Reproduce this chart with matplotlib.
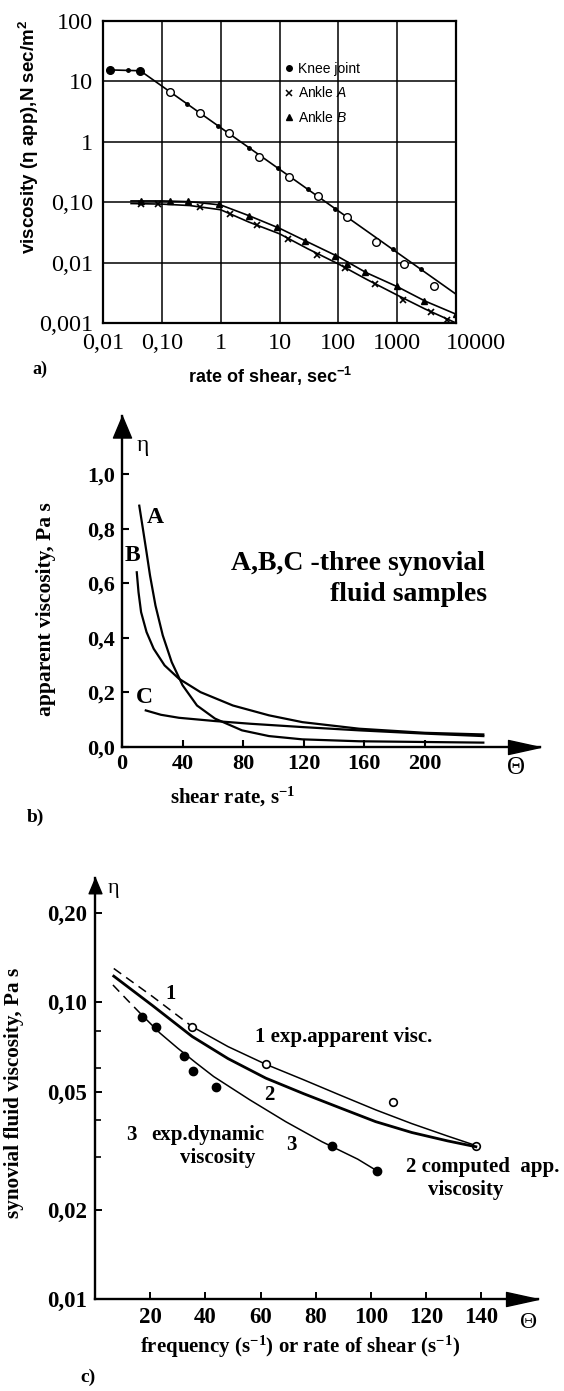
import matplotlib
matplotlib.use('Agg')
import matplotlib.pyplot as plt
from matplotlib.lines import Line2D

plt.rcParams['mathtext.default'] = 'regular'
plt.rcParams['mathtext.fontset'] = 'custom'
plt.rcParams['mathtext.it'] = 'Liberation Sans:italic'

SERIF = 'Liberation Serif'
SANS = 'Liberation Sans'

# ---------------- data: panel a ----------------
a_xticks = [0.01, 0.1, 1, 10, 100, 1000]
a_xticklabels = ['0,01', '0,10', '1', '10', '100', '1000']
a_last_xtick = 10000
a_last_xticklabel = '10000'
a_yticks = [0.001, 0.01, 0.1, 1, 10, 100]
a_yticklabels = ['0,001', '0,01', '0,10', '1', '10', '100']

knee_line_x = [0.013, 0.043, 10000]
knee_line_y = [15.5, 15.0, 0.003]
knee_plateau_x = [0.013, 0.043]
knee_plateau_y = [15.5, 15.0]
knee_open_x = [0.137, 0.45, 1.38, 4.5, 14.4, 45, 138, 443, 1330, 4270]
knee_open_y = [6.8, 3.0, 1.4, 0.56, 0.26, 0.126, 0.056, 0.022, 0.0095, 0.0041]
knee_dot_x = [0.027, 0.27, 0.9, 3, 9.4, 30, 88, 850, 2500]
knee_dot_y = [15.2, 4.2, 1.85, 0.8, 0.37, 0.165, 0.078, 0.0165, 0.0079]

ankleB_line_x = [0.03, 0.1, 0.3, 1, 3, 10, 30, 100, 300, 1000, 3000, 10000]
ankleB_line_y = [0.105, 0.105, 0.102, 0.09, 0.06, 0.037, 0.022, 0.0125, 0.0068, 0.0040, 0.0023, 0.0014]
ankleB_x = [0.045, 0.14, 0.28, 0.95, 3, 9, 27, 88, 140, 280, 1000, 2900, 10000]
ankleB_y = [0.105, 0.105, 0.105, 0.092, 0.058, 0.039, 0.023, 0.013, 0.0095, 0.0069, 0.0041, 0.0023, 0.0014]

ankleA_line_x = [0.03, 0.1, 0.3, 1, 3, 10, 30, 100, 300, 1000, 3000, 10000]
ankleA_line_y = [0.095, 0.093, 0.088, 0.075, 0.047, 0.03, 0.017, 0.0095, 0.0053, 0.0029, 0.0017, 0.001]
ankleA_x = [0.045, 0.087, 0.44, 1.46, 4.2, 13.8, 43, 130, 415, 1250, 3740, 7000]
ankleA_y = [0.095, 0.092, 0.083, 0.065, 0.042, 0.025, 0.0135, 0.0082, 0.0044, 0.0024, 0.0015, 0.0011]

legend_labels = ['Knee joint', r'Ankle $\it{A}$', r'Ankle $\it{B}$']

# ---------------- data: panel b ----------------
b_xticks = [0, 40, 80, 120, 160, 200]
b_xticklabels = ['0', '40', '80', '120', '160', '200']
b_yticks = [0, 0.2, 0.4, 0.6, 0.8, 1.0]
b_yticklabels = ['0,0', '0,2', '0,4', '0,6', '0,8', '1,0']

A_x = [11.4, 13.8, 16.2, 18.5, 22.1, 26.9, 32.8, 40.0, 49.5, 61.4, 79.2, 97.0, 119.1, 156.5, 238.5]
A_y = [0.884, 0.799, 0.713, 0.628, 0.518, 0.409, 0.311, 0.226, 0.152, 0.104, 0.061, 0.040, 0.028, 0.021, 0.016]
B_x = [9.75, 10.9, 12.6, 16.2, 20.9, 28.1, 37.6, 51.8, 73.2, 97.0, 119.1, 156.5, 200, 238.5]
B_y = [0.640, 0.567, 0.494, 0.421, 0.360, 0.299, 0.250, 0.201, 0.152, 0.116, 0.091, 0.067, 0.052, 0.046]
C_x = [15.7, 25.7, 37.6, 61.4, 85.1, 119.1, 156.5, 200, 238.5]
C_y = [0.134, 0.118, 0.107, 0.095, 0.085, 0.073, 0.061, 0.049, 0.040]

# ---------------- data: panel c ----------------
c_xticks = [20, 40, 60, 80, 100, 120, 140]
c_xticklabels = ['20', '40', '60', '80', '100', '120', '140']
c_yticks = [0.01, 0.02, 0.05, 0.1, 0.2]
c_yticklabels = ['0,01', '0,02', '0,05', '0,10', '0,20']
c_yminor = [0.03, 0.04, 0.06, 0.08]

c1_dash_x = [6.8, 20.9, 35.2]
c1_dash_y = [0.130, 0.1045, 0.0828]
c1_x = [35.2, 48.2, 61.9, 75.6, 88.7, 101.7, 114.8, 127.8, 138.0]
c1_y = [0.0828, 0.0709, 0.0618, 0.0548, 0.0487, 0.0434, 0.039, 0.0354, 0.0329]
c1_pts_x = [35.2, 61.9, 108, 138]
c1_pts_y = [0.0828, 0.0618, 0.0462, 0.0329]

c2_x = [6.8, 20.9, 35.2, 48.2, 61.9, 75.6, 88.7, 101.7, 114.8, 127.8, 138.0]
c2_y = [0.1225, 0.0974, 0.0767, 0.0646, 0.0555, 0.0492, 0.0441, 0.0396, 0.0364, 0.0341, 0.0326]

c3_dash_x = [6.5, 11.7, 17.0]
c3_dash_y = [0.1144, 0.1018, 0.0906]
c3_x = [17.0, 23.5, 30.0, 36.5, 43.0, 56.1, 69.1, 82.2, 95.2, 101.7]
c3_y = [0.0906, 0.0788, 0.070, 0.0626, 0.0562, 0.0469, 0.0396, 0.0339, 0.0296, 0.0272]
c3_pts_x = [17.0, 22.2, 32.2, 35.6, 43.7, 85.8, 102]
c3_pts_y = [0.0894, 0.0824, 0.0661, 0.0587, 0.052, 0.0329, 0.0271]

# ---------------- layout helpers ----------------
W, H = 564, 1391
fig = plt.figure(figsize=(W / 100, H / 100), dpi=100)


def box(l, t, r, b):
    return [l / W, 1 - b / H, (r - l) / W, (b - t) / H]


def fx(x):
    return x / W


def fy(y):
    return 1 - y / H


ARROW_R = [(0, 0), (-1, 0.22), (-1, -0.22), (0, 0)]
ARROW_U = [(0, 0), (-0.42, -1), (0.42, -1), (0, 0)]

# ================= panel a =================
ax1 = fig.add_axes(box(103, 21, 456, 323))
ax1.set_xscale('log')
ax1.set_yscale('log')
ax1.set_xlim(0.01, 10000)
ax1.set_ylim(0.001, 100)
ax1.set_xticks(a_xticks + [a_last_xtick])
ax1.set_xticklabels(a_xticklabels + [''])
ax1.set_yticks(a_yticks)
ax1.set_yticklabels(a_yticklabels)
ax1.minorticks_off()
ax1.tick_params(axis='both', length=0, labelsize=17.5)
ax1.tick_params(axis='x', pad=7)
ax1.tick_params(axis='y', pad=7)
for lab in ax1.get_xticklabels() + ax1.get_yticklabels():
    lab.set_family(SERIF)
ax1.annotate(a_last_xticklabel, xy=(a_last_xtick, 0), xycoords=('data', 'axes fraction'),
             xytext=(20, -10), textcoords='offset pixels', ha='center', va='top',
             fontsize=17.5, family=SERIF)
ax1.grid(True, which='major', color='k', lw=1.1)
ax1.set_axisbelow(True)
for s in ax1.spines.values():
    s.set_linewidth(1.6)

ax1.plot(knee_line_x, knee_line_y, color='k', lw=1.2)
ax1.plot(knee_plateau_x, knee_plateau_y, ls='none', marker='o', ms=5.5, mfc='k', mec='k')
ax1.plot(knee_open_x, knee_open_y, ls='none', marker='o', ms=5.5, mfc='white', mec='k', mew=1.0)
ax1.plot(knee_dot_x, knee_dot_y, ls='none', marker='o', ms=2.5, color='k')

ax1.plot(ankleB_line_x, ankleB_line_y, color='k', lw=1.2)
ax1.plot(ankleB_x, ankleB_y, ls='none', marker='^', ms=5, color='k')
ax1.plot(ankleA_line_x, ankleA_line_y, color='k', lw=1.2)
ax1.plot(ankleA_x, ankleA_y, ls='none', marker='x', ms=5, mew=1.2, color='k')

handles = [Line2D([], [], ls='none', marker='o', color='k', ms=4),
           Line2D([], [], ls='none', marker='x', color='k', ms=5, mew=1.1),
           Line2D([], [], ls='none', marker='^', color='k', ms=5)]
ax1.legend(handles, legend_labels, loc='upper left', bbox_to_anchor=(0.515, 0.865),
           frameon=False, prop={'family': SANS, 'size': 10}, handlelength=0.6,
           handletextpad=0.35, labelspacing=0.7, borderpad=0, borderaxespad=0)

fig.text(fx(29), fy(137), 'viscosity (η app),N sec/m$^{2}$', rotation=90, ha='center',
         va='center', family=SANS, weight='bold', fontsize=13.5)
fig.text(fx(270), fy(376), 'rate of shear, sec$^{-1}$', ha='center', va='center',
         family=SANS, weight='bold', fontsize=13)
fig.text(fx(40), fy(369), 'a)', ha='center', va='center', family=SERIF, weight='bold', fontsize=13)

# ================= panel b =================
bx0, by0, bsx, bsy = 122, 747, 1.515, 273.0
ax2 = fig.add_axes(box(bx0, 416, 540, by0))
ax2.set_xlim(0, (540 - bx0) / bsx)
ax2.set_ylim(0, (by0 - 416) / bsy)
for s in ['top', 'right']:
    ax2.spines[s].set_visible(False)
for s in ['left', 'bottom']:
    ax2.spines[s].set_linewidth(1.7)
ax2.set_xticks(b_xticks)
ax2.set_xticklabels(b_xticklabels)
ax2.set_yticks(b_yticks)
ax2.set_yticklabels(b_yticklabels)
ax2.tick_params(direction='in', length=5, width=1.5, labelsize=16, pad=5)
for lab in ax2.get_xticklabels() + ax2.get_yticklabels():
    lab.set_family(SERIF)
    lab.set_weight('bold')
ax2.plot([1], [0], marker=ARROW_R, ms=46, color='k', transform=ax2.transAxes, clip_on=False)
ax2.plot([0], [1], marker=ARROW_U, ms=31, color='k', transform=ax2.transAxes, clip_on=False)

ax2.plot(A_x, A_y, color='k', lw=1.6)
ax2.plot(B_x, B_y, color='k', lw=1.6)
ax2.plot(C_x, C_y, color='k', lw=1.6)

ax2.text(22.1, 0.841, 'A', ha='center', va='center', family=SERIF, weight='bold', fontsize=17)
ax2.text(7.1, 0.701, 'B', ha='center', va='center', family=SERIF, weight='bold', fontsize=17)
ax2.text(15.0, 0.183, 'C', ha='center', va='center', family=SERIF, weight='bold', fontsize=17)
ax2.text(72.1, 0.671, 'A,B,C -three synovial', ha='left', va='center', family=SERIF,
         weight='bold', fontsize=20)
ax2.text(137.5, 0.559, 'fluid samples', ha='left', va='center', family=SERIF,
         weight='bold', fontsize=20)

fig.text(fx(143), fy(445), 'η', ha='center', va='center', family=SERIF, fontsize=17)
fig.text(fx(516), fy(768), 'Θ', ha='center', va='center', family=SERIF, fontsize=18)
fig.text(fx(46), fy(609), 'apparent viscosity, Pa s', rotation=90, ha='center', va='center',
         family=SERIF, weight='bold', fontsize=15.5)
fig.text(fx(233), fy(797), 'shear rate, s$^{-1}$', ha='center', va='center',
         family=SERIF, weight='bold', fontsize=15)
fig.text(fx(35), fy(817), 'b)', ha='center', va='center', family=SERIF, weight='bold', fontsize=14)

# ================= panel c =================
cx0, cy0, csx, cdec = 95, 1299, 2.76, 296.7
ax3 = fig.add_axes(box(cx0, 878, 538, cy0))
ax3.set_yscale('log')
ax3.set_xlim(0, (538 - cx0) / csx)
ax3.set_ylim(0.01, 0.01 * 10 ** ((cy0 - 878) / cdec))
for s in ['top', 'right']:
    ax3.spines[s].set_visible(False)
for s in ['left', 'bottom']:
    ax3.spines[s].set_linewidth(1.7)
ax3.set_xticks(c_xticks)
ax3.set_xticklabels(c_xticklabels)
ax3.set_yticks(c_yticks)
ax3.set_yticklabels(c_yticklabels)
ax3.set_yticks(c_yminor, minor=True)
ax3.yaxis.set_minor_formatter(matplotlib.ticker.NullFormatter())
ax3.tick_params(which='major', direction='in', length=5, width=1.4, labelsize=16.5, pad=6)
ax3.tick_params(which='minor', direction='in', length=4, width=1.2)
for lab in ax3.get_xticklabels() + ax3.get_yticklabels():
    lab.set_family(SERIF)
    lab.set_weight('bold')
ax3.plot([1], [0], marker=ARROW_R, ms=46, color='k', transform=ax3.transAxes, clip_on=False)
ax3.plot([0], [1], marker=ARROW_U, ms=22, color='k', transform=ax3.transAxes, clip_on=False)

ax3.plot(c1_dash_x, c1_dash_y, color='k', lw=1.1, ls=(0, (6, 4)))
ax3.plot(c1_x, c1_y, color='k', lw=1.1)
ax3.plot(c1_pts_x, c1_pts_y, ls='none', marker='o', ms=5.5, mfc='white', mec='k', mew=1.2)
ax3.plot(c2_x, c2_y, color='k', lw=2.0)
ax3.plot(c3_dash_x, c3_dash_y, color='k', lw=1.1, ls=(0, (6, 4)))
ax3.plot(c3_x, c3_y, color='k', lw=1.1)
ax3.plot(c3_pts_x, c3_pts_y, ls='none', marker='o', ms=6, color='k')

tkw = dict(family=SERIF, weight='bold', fontsize=15)
ax3.text(27.4, 0.107, '1', ha='center', va='center', **tkw)
ax3.text(58, 0.0766, '1 exp.apparent visc.', ha='left', va='center', **tkw)
ax3.text(63, 0.0488, '2', ha='center', va='center', **tkw)
ax3.text(13, 0.0356, '3', ha='center', va='center', **tkw)
ax3.text(41, 0.0357, 'exp.dynamic', ha='center', va='center', **tkw)
ax3.text(44.3, 0.0298, 'viscosity', ha='center', va='center', **tkw)
ax3.text(71.1, 0.033, '3', ha='center', va='center', **tkw)
ax3.text(112.8, 0.0279, '2 computed  app.', ha='left', va='center', **tkw)
ax3.text(134.3, 0.0233, 'viscosity', ha='center', va='center', **tkw)

fig.text(fx(114), fy(888), 'η', ha='center', va='center', family=SERIF, fontsize=16)
fig.text(fx(529), fy(1323), 'Θ', ha='center', va='center', family=SERIF, fontsize=17)
fig.text(fx(14), fy(1093), 'synovial fluid viscosity, Pa s', rotation=90, ha='center',
         va='center', family=SERIF, weight='bold', fontsize=15.3)
fig.text(fx(300), fy(1347), 'frequency (s$^{-1}$) or rate of shear (s$^{-1}$)', ha='center',
         va='center', family=SERIF, weight='bold', fontsize=15)
fig.text(fx(88), fy(1377), 'c)', ha='center', va='center', family=SERIF, weight='bold', fontsize=14)

fig.savefig('out.png', dpi=100, facecolor='white')
